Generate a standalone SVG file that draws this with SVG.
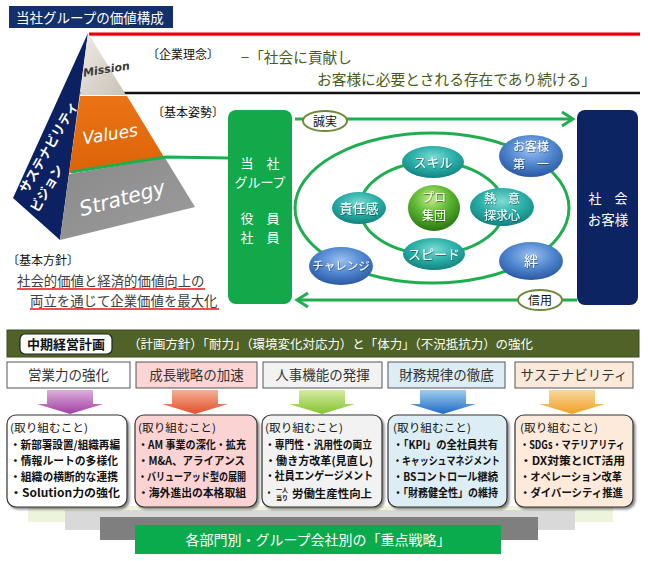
<svg xmlns="http://www.w3.org/2000/svg" width="648" height="561" viewBox="0 0 648 561">
<defs>
<style>
text{font-family:"Noto Sans CJK JP","Noto Sans",sans-serif;}
.w{fill:#fff;}
.c{text-anchor:middle;}
.lbl{font-size:12px;fill:#111;}
.body{font-size:11px;fill:#111;}
.b{font-weight:700;}
.oval{font-size:13px;fill:#fff;text-anchor:middle;}
.oval2{font-size:12px;fill:#fff;text-anchor:middle;}
.hdr{font-size:13.5px;fill:#333;text-anchor:middle;}
.ring{fill:none;stroke:#1fae4f;stroke-width:3;}
.conn{fill:none;stroke:#1fae4f;stroke-width:3;}
.bx{stroke:#333;stroke-width:1.2;}
.hb{stroke:#555;stroke-width:1;}
.lat{font-family:"DejaVu Sans",sans-serif;font-style:italic;}
</style>
<radialGradient id="teal" cx="50%" cy="35%" r="65%"><stop offset="0" stop-color="#7ddbd3"/><stop offset="0.55" stop-color="#2aaea7"/><stop offset="1" stop-color="#12827f"/></radialGradient>
<radialGradient id="blue" cx="50%" cy="35%" r="65%"><stop offset="0" stop-color="#9cc0ee"/><stop offset="0.55" stop-color="#4f86cf"/><stop offset="1" stop-color="#2a58a2"/></radialGradient>
<radialGradient id="sphere" cx="45%" cy="30%" r="70%"><stop offset="0" stop-color="#c2ec88"/><stop offset="0.5" stop-color="#5cb832"/><stop offset="1" stop-color="#2b7612"/></radialGradient>
<linearGradient id="mis" x1="0" y1="0" x2="1" y2="1"><stop offset="0" stop-color="#efebe4"/><stop offset="1" stop-color="#c9c2b8"/></linearGradient>
<linearGradient id="org" x1="0" y1="0" x2="0" y2="1"><stop offset="0" stop-color="#ea7414"/><stop offset="1" stop-color="#dc6408"/></linearGradient>
<linearGradient id="gry" x1="0" y1="0" x2="1" y2="1"><stop offset="0" stop-color="#8a8a8a"/><stop offset="1" stop-color="#9c9c9c"/></linearGradient>
<linearGradient id="a1" x1="0" y1="0" x2="0" y2="1"><stop offset="0" stop-color="#dcb0dc"/><stop offset="1" stop-color="#a23ea2"/></linearGradient>
<linearGradient id="a2" x1="0" y1="0" x2="0" y2="1"><stop offset="0" stop-color="#f6b096"/><stop offset="1" stop-color="#e0502a"/></linearGradient>
<linearGradient id="a3" x1="0" y1="0" x2="0" y2="1"><stop offset="0" stop-color="#d4eca0"/><stop offset="1" stop-color="#86c232"/></linearGradient>
<linearGradient id="a4" x1="0" y1="0" x2="0" y2="1"><stop offset="0" stop-color="#a0ccf0"/><stop offset="1" stop-color="#1e6cc4"/></linearGradient>
<linearGradient id="a5" x1="0" y1="0" x2="0" y2="1"><stop offset="0" stop-color="#f9d8a0"/><stop offset="1" stop-color="#f0a024"/></linearGradient>
<filter id="sh" x="-10%" y="-10%" width="125%" height="130%"><feDropShadow dx="2" dy="2" stdDeviation="1.2" flood-color="#000" flood-opacity="0.45"/></filter>
<filter id="ts" x="-10%" y="-20%" width="130%" height="150%"><feDropShadow dx="0.6" dy="0.8" stdDeviation="0.4" flood-color="#000" flood-opacity="0.5"/></filter>
</defs>

<rect width="648" height="561" fill="#fff"/>

<g id="title">
<rect x="9" y="6" width="164" height="22" fill="#14306b"/>
<text x="16" y="22.5" class="w" font-size="13.5">当社グループの価値構成</text>
</g>

<g id="lines-top">
<line x1="89" y1="35.5" x2="640" y2="35.5" stroke="#bbb" stroke-width="1.5"/>
<line x1="89" y1="34" x2="640" y2="34" stroke="#e8000b" stroke-width="3"/>
<line x1="80" y1="93" x2="640" y2="93" stroke="#111" stroke-width="2.5"/>
</g>

<g id="pyramid">
<polygon points="88,33 60,240 13,198" fill="#0b2161"/>
<polygon points="88,33 126,95 80,95" fill="url(#mis)"/>
<polygon points="80,96 127,96 164,157 69,173" fill="url(#org)"/>
<polygon points="69,174 165,158 195,207 60,240" fill="url(#gry)"/>
<g transform="translate(23,192) rotate(-60)" font-size="13" font-weight="700">
<text class="w"><tspan x="0" y="4.5">サステナビリティ</tspan><tspan x="-11" y="23.5">ビジョン</tspan></text>
</g>
<text class="lat" font-size="11" font-weight="700" fill="#3a3a3a" transform="translate(107,73) rotate(-9)" text-anchor="middle">Mission</text>
<text class="lat" font-size="17" fill="#fff" transform="translate(111,140) rotate(-9)" text-anchor="middle">Values</text>
<text class="lat" font-size="20.5" fill="#fff" transform="translate(124,205) rotate(-15)" text-anchor="middle">Strategy</text>
</g>

<g id="mission">
<text x="147" y="59" class="lbl">〔企業理念〕</text>
<text x="241" y="63" font-size="14.7" fill="#4a5a20">−「社会に貢献し</text>
<text x="317" y="85" font-size="14.7" fill="#4a5a20">お客様に必要とされる存在であり続ける」</text>
</g>

<g id="values-label">
<text x="152" y="117" class="lbl">〔基本姿勢〕</text>
</g>

<g id="policy">
<text x="7" y="265" font-size="12" fill="#111">〔基本方針〕</text>
<text x="17" y="286" font-size="13.4" fill="#404040">社会的価値と経済的価値向上の</text>
<line x1="17" y1="289" x2="205" y2="289" stroke="#e8141e" stroke-width="1.5"/>
<text x="30" y="306" font-size="13.4" fill="#404040">両立を通じて企業価値を最大化</text>
<line x1="30" y1="309" x2="219" y2="309" stroke="#e8141e" stroke-width="1.5"/>
</g>

<g id="connectors">
<polyline class="conn" stroke-width="2.5" points="71,172 166,157 229,158"/>
<line class="conn" x1="295" y1="119" x2="572" y2="119"/>
<path class="conn" d="M562,112 L573,119 L562,126"/>
<line class="conn" x1="577" y1="300" x2="298" y2="300"/>
<path class="conn" d="M308,293 L297,300 L308,307"/>
</g>

<g id="group-box">
<rect x="228" y="110" width="64" height="194" rx="8" fill="#12a94b"/>
<text x="260" y="168" class="w c" font-size="13">当　社</text>
<text x="260" y="187" class="w c" font-size="13">グループ</text>
<text x="260" y="223" class="w c" font-size="13">役　員</text>
<text x="260" y="242" class="w c" font-size="13">社　員</text>
</g>

<g id="society-box">
<rect x="577" y="110" width="61" height="195" rx="8" fill="#0d2463"/>
<text x="608" y="203" class="w c" font-size="13">社　会</text>
<text x="608" y="225" class="w c" font-size="13.5">お客様</text>
</g>

<g id="rings">
<ellipse class="ring" cx="432" cy="208" rx="137" ry="75"/>
<ellipse class="ring" cx="432" cy="208" rx="72" ry="46"/>
</g>

<g id="n-skill"><ellipse cx="433" cy="162" rx="31" ry="16" fill="url(#teal)"/><text x="433" y="167" class="oval" filter="url(#ts)">スキル</text></g>
<g id="n-sekinin"><ellipse cx="359" cy="208" rx="27" ry="16" fill="url(#teal)"/><text x="359" y="213" class="oval" filter="url(#ts)">責任感</text></g>
<g id="n-netsui"><ellipse cx="502" cy="207" rx="32" ry="19" fill="url(#teal)"/><text class="oval2" filter="url(#ts)"><tspan x="502" y="202.5">熱　意</tspan><tspan x="502" y="220">探求心</tspan></text></g>
<g id="n-speed"><ellipse cx="434" cy="254" rx="31" ry="16" fill="url(#teal)"/><text x="434" y="259" class="oval" filter="url(#ts)">スピード</text></g>
<g id="n-pro"><ellipse cx="434" cy="208" rx="26" ry="23" fill="url(#sphere)"/><text class="oval2" filter="url(#ts)"><tspan x="434" y="202">プロ</tspan><tspan x="434" y="219.5">集団</tspan></text></g>
<g id="n-customer"><ellipse cx="531" cy="156" rx="32" ry="21" fill="url(#blue)"/><text class="oval2" filter="url(#ts)"><tspan x="531" y="151">お客様</tspan><tspan x="531" y="168.5">第　一</tspan></text></g>
<g id="n-challenge"><ellipse cx="341" cy="266" rx="32" ry="19" fill="url(#blue)"/><text x="341" y="270" class="oval" style="font-size:11.5px" filter="url(#ts)">チャレンジ</text></g>
<g id="n-kizuna"><ellipse cx="531" cy="261" rx="32" ry="19" fill="url(#blue)"/><text x="531" y="266" class="oval" style="font-size:14px" filter="url(#ts)">絆</text></g>

<g id="l-seijitsu"><ellipse cx="325" cy="121" rx="22" ry="10" fill="#fff" stroke="#6d8a3a" stroke-width="2"/><text x="325" y="125.5" class="c" font-size="12" fill="#111">誠実</text></g>
<g id="l-shinyo"><ellipse cx="540" cy="300" rx="22" ry="10" fill="#fff" stroke="#6d8a3a" stroke-width="2"/><text x="540" y="304.5" class="c" font-size="12" fill="#111">信用</text></g>

<g id="plan-bar">
<rect x="7" y="330" width="632" height="27" fill="#4f6228" stroke="#3c4a1e" stroke-width="1"/>
<rect x="20" y="334" width="92" height="20" rx="5" fill="#fff" stroke="#222" stroke-width="1.2"/>
<text x="66" y="349" class="c b" font-size="13" fill="#111">中期経営計画</text>
<text x="128" y="349" class="w" font-size="12.5" textLength="405" lengthAdjust="spacingAndGlyphs">（計画方針）「耐力」（環境変化対応力）と「体力」（不況抵抗力）の強化</text>
</g>

<g id="steps">
<rect x="28" y="506" width="585" height="16" fill="#eef3dc"/>
<rect x="65" y="510" width="510" height="20" fill="#d9d9d9"/>
<rect x="100" y="517" width="438" height="23" fill="#7f7f7f"/>
<rect x="135" y="525" width="366" height="29" fill="#0aab4c"/>
<text x="318" y="545" class="w c" font-size="14">各部門別・グループ会社別の「重点戦略」</text>
</g>

<g id="col1">
<rect x="7" y="362" width="123" height="26" fill="#fff" class="hb"/>
<text x="68.5" y="380" class="hdr">営業力の強化</text>
<polygon points="47,390 93,390 93,404 103,404 70,414 37,404 47,404" fill="url(#a1)"/>
<rect x="7" y="415" width="120" height="92" rx="9" fill="#fff" class="bx" filter="url(#sh)"/>
<text x="10" y="432" class="body" textLength="78" lengthAdjust="spacingAndGlyphs">(取り組むこと)</text>
<text x="10" y="449" class="body b" textLength="110" lengthAdjust="spacingAndGlyphs">・新部署設置/組織再編</text>
<text x="10" y="465" class="body b" textLength="108" lengthAdjust="spacingAndGlyphs">・情報ルートの多様化</text>
<text x="10" y="481" class="body b" textLength="108" lengthAdjust="spacingAndGlyphs">・組織の横断的な連携</text>
<text x="10" y="497" class="body b" textLength="110" lengthAdjust="spacingAndGlyphs">・Solution力の強化</text>
</g>

<g id="col2">
<rect x="136" y="362" width="121" height="26" fill="#fdd5d5" class="hb"/>
<text x="196.5" y="380" class="hdr">成長戦略の加速</text>
<polygon points="172,390 218,390 218,404 228,404 195,414 162,404 172,404" fill="url(#a2)"/>
<rect x="135" y="415" width="122" height="92" rx="9" fill="#fcd3d3" class="bx" filter="url(#sh)"/>
<text x="138" y="432" class="body" textLength="78" lengthAdjust="spacingAndGlyphs">(取り組むこと)</text>
<text x="138" y="449" class="body b" textLength="108" lengthAdjust="spacingAndGlyphs">・AM 事業の深化・拡充</text>
<text x="138" y="465" class="body b" textLength="107" lengthAdjust="spacingAndGlyphs">・M&amp;A、アライアンス</text>
<text x="138" y="481" class="body b" textLength="108" lengthAdjust="spacingAndGlyphs">・バリューアッド型の展開</text>
<text x="138" y="497" class="body b" textLength="108" lengthAdjust="spacingAndGlyphs">・海外進出の本格取組</text>
</g>

<g id="col3">
<rect x="263" y="362" width="119" height="26" fill="#f2f2f2" class="hb"/>
<text x="322.5" y="380" class="hdr">人事機能の発揮</text>
<polygon points="299,390 345,390 345,404 355,404 322,414 289,404 299,404" fill="url(#a3)"/>
<rect x="262" y="415" width="120" height="92" rx="9" fill="#f2f2f2" class="bx" filter="url(#sh)"/>
<text x="265" y="432" class="body" textLength="78" lengthAdjust="spacingAndGlyphs">(取り組むこと)</text>
<text x="265" y="449" class="body b" textLength="107" lengthAdjust="spacingAndGlyphs">・専門性・汎用性の両立</text>
<text x="265" y="465" class="body b" textLength="108" lengthAdjust="spacingAndGlyphs">・働き方改革(見直し)</text>
<text x="265" y="480" class="body b" textLength="108" lengthAdjust="spacingAndGlyphs">・社員エンゲージメント</text>
<text x="265" y="497" class="body b" textLength="8" lengthAdjust="spacingAndGlyphs">・</text>
<text class="body b" style="font-size:6px"><tspan x="276" y="491.5">一人</tspan><tspan x="276" y="500">当り</tspan></text>
<text x="292" y="497.5" class="body b" textLength="80" lengthAdjust="spacingAndGlyphs">労働生産性向上</text>
</g>

<g id="col4">
<rect x="388" y="362" width="117" height="26" fill="#dcedf5" class="hb"/>
<text x="446.5" y="380" class="hdr">財務規律の徹底</text>
<polygon points="420,390 466,390 466,404 476,404 443,414 410,404 420,404" fill="url(#a4)"/>
<rect x="388" y="415" width="119" height="92" rx="9" fill="#dcedf5" class="bx" filter="url(#sh)"/>
<text x="393" y="432" class="body" textLength="78" lengthAdjust="spacingAndGlyphs">(取り組むこと)</text>
<text x="393" y="449" class="body b" textLength="105" lengthAdjust="spacingAndGlyphs">・「KPI」の全社員共有</text>
<text x="393" y="465" class="body b" textLength="107" lengthAdjust="spacingAndGlyphs">・キャッシュマネジメント</text>
<text x="393" y="481" class="body b" textLength="105" lengthAdjust="spacingAndGlyphs">・BSコントロール継続</text>
<text x="393" y="497" class="body b" textLength="105" lengthAdjust="spacingAndGlyphs">・「財務健全性」の維持</text>
</g>

<g id="col5">
<rect x="515" y="362" width="118" height="26" fill="#fde9d9" class="hb"/>
<text x="574" y="380" class="hdr">サステナビリティ</text>
<polygon points="549,390 595,390 595,404 605,404 572,414 539,404 549,404" fill="url(#a5)"/>
<rect x="515" y="415" width="118" height="92" rx="9" fill="#fdeadb" class="bx" filter="url(#sh)"/>
<text x="520" y="432" class="body" textLength="78" lengthAdjust="spacingAndGlyphs">(取り組むこと)</text>
<text x="520" y="449" class="body b" textLength="105" lengthAdjust="spacingAndGlyphs">・SDGs・マテリアリティ</text>
<text x="520" y="465" class="body b" textLength="105" lengthAdjust="spacingAndGlyphs">・DX対策とICT活用</text>
<text x="520" y="481" class="body b" textLength="102" lengthAdjust="spacingAndGlyphs">・オペレーション改革</text>
<text x="520" y="497" class="body b" textLength="103" lengthAdjust="spacingAndGlyphs">・ダイバーシティ推進</text>
</g>
</svg>
